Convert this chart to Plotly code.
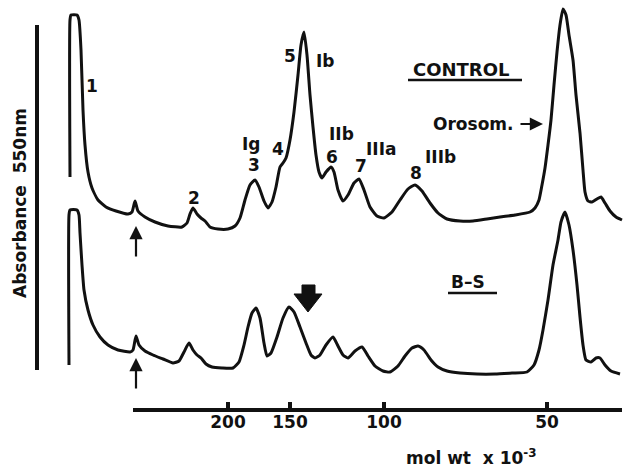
import plotly.graph_objects as go

W, H = 631, 467

# Elution position (arbitrary units) and absorbance (arbitrary units), CONTROL trace
control_x = [70, 70, 71, 77, 79, 81, 83, 85, 88, 92, 98, 106, 116, 128, 132, 135, 138, 145, 155, 168,
             182, 187, 190, 193, 197, 201, 205, 210, 218, 228, 235, 240, 245, 250, 255, 259, 264, 268,
             272, 276, 280, 283, 286, 290, 294, 298, 301, 304, 307, 310, 313, 316, 319, 322, 326, 331,
             334, 338, 343, 348, 354, 359, 364, 370, 377, 384, 392, 400, 408, 415, 422, 430, 438, 447,
             460, 473, 487, 500, 515, 530, 535, 539, 542, 545, 548, 551, 554, 557, 560, 563, 566, 569,
             573, 576, 580, 583, 585, 588, 592, 597, 601, 605, 610, 616, 622]
control_a = [0.53, 2.10, 2.15, 2.15, 2.10, 1.80, 1.20, 0.85, 0.58, 0.42, 0.30, 0.23, 0.19, 0.16, 0.18,
             0.29, 0.19, 0.13, 0.08, 0.04, 0.03, 0.07, 0.16, 0.22, 0.16, 0.12, 0.09, 0.03, 0.01, 0.01,
             0.04, 0.12, 0.30, 0.45, 0.50, 0.43, 0.29, 0.22, 0.28, 0.43, 0.63, 0.67, 0.72, 0.90, 1.18,
             1.55, 1.85, 1.98, 1.75, 1.35, 1.03, 0.75, 0.58, 0.52, 0.58, 0.63, 0.58, 0.40, 0.29, 0.35,
             0.47, 0.51, 0.40, 0.23, 0.14, 0.12, 0.18, 0.30, 0.41, 0.45, 0.39, 0.27, 0.17, 0.11, 0.09,
             0.09, 0.11, 0.13, 0.15, 0.18, 0.22, 0.30, 0.45, 0.62, 0.85, 1.10, 1.45, 1.78, 2.05, 2.21,
             2.15, 1.95, 1.70, 1.35, 0.97, 0.60, 0.38, 0.29, 0.28, 0.31, 0.33, 0.27, 0.19, 0.13, 0.10]

# B-S trace
bs_x = [69, 69, 70, 77, 79, 80, 82, 84, 88, 93, 100, 108, 118, 130, 133, 136, 139, 145, 153, 163,
        173, 179, 184, 189, 193, 197, 201, 206, 212, 222, 233, 239, 244, 248, 252, 256, 260, 264,
        267, 271, 277, 283, 289, 294, 300, 306, 311, 315, 320, 326, 333, 338, 343, 348, 355, 362,
        368, 375, 383, 390, 398, 405, 412, 418, 424, 431, 438, 447, 460, 477, 495, 512, 527, 534,
        539, 543, 548, 553, 558, 561, 565, 569, 573, 577, 580, 583, 586, 591, 596, 600, 605, 611, 620]
bs_a = [0.10, 1.60, 1.65, 1.65, 1.60, 1.42, 1.10, 0.85, 0.65, 0.50, 0.38, 0.30, 0.25, 0.23, 0.25,
        0.39, 0.30, 0.24, 0.20, 0.16, 0.12, 0.14, 0.23, 0.32, 0.25, 0.20, 0.17, 0.11, 0.08, 0.07,
        0.07, 0.13, 0.30, 0.48, 0.62, 0.67, 0.57, 0.32, 0.19, 0.22, 0.38, 0.57, 0.68, 0.63, 0.48,
        0.32, 0.20, 0.17, 0.20, 0.30, 0.38, 0.29, 0.20, 0.17, 0.24, 0.28, 0.19, 0.09, 0.04, 0.03,
        0.09, 0.19, 0.27, 0.29, 0.25, 0.15, 0.08, 0.04, 0.02, 0.01, 0.01, 0.02, 0.03, 0.10, 0.25,
        0.45, 0.75, 1.10, 1.35, 1.53, 1.63, 1.50, 1.25, 0.90, 0.58, 0.30, 0.15, 0.13, 0.17, 0.17,
        0.10, 0.04, 0.01]

# Molecular weight scale (x 10^-3) and its position on the elution axis
mw_tick_pos = [228, 290, 384, 547]
mw_tick_labels = ["200", "150", "100", "50"]
mw_axis_span = [133, 622]

FONT = "DejaVu Sans"
INK = "#111111"
AXIS_PX = 410  # pixel row of the molecular weight axis


def P(px, py):
    return px / W, 1 - py / H


fig = go.Figure()
fig.add_trace(go.Scatter(x=control_x, y=control_a, mode="lines", yaxis="y",
                         line=dict(color=INK, width=3, shape="spline", smoothing=0.5),
                         hoverinfo="skip", showlegend=False))
fig.add_trace(go.Scatter(x=bs_x, y=bs_a, mode="lines", yaxis="y2",
                         line=dict(color=INK, width=3, shape="spline", smoothing=0.5),
                         hoverinfo="skip", showlegend=False))

ybot = 1 - AXIS_PX / H
fig.update_layout(
    width=W, height=H, margin=dict(l=0, r=0, t=0, b=0),
    paper_bgcolor="white", plot_bgcolor="rgba(0,0,0,0)",
    xaxis=dict(range=[0, W], domain=[0, 1], anchor="y", side="bottom",
               showline=False, showgrid=False, zeroline=False, ticks="",
               tickvals=mw_tick_pos, ticktext=["<b>%s</b>" % t for t in mw_tick_labels],
               tickfont=dict(family=FONT, size=17, color=INK)),
    yaxis=dict(range=[(230 - AXIS_PX) / 100, 230 / 100], domain=[ybot, 1], visible=False),
    yaxis2=dict(range=[(375 - AXIS_PX) / 100, 375 / 100], domain=[ybot, 1], overlaying="y",
                visible=False),
)

shapes = []
# molecular weight axis line and its tick marks (drawn as one path)
yt = 1 - (AXIS_PX - 8) / H
tick_path = "M %f,%f L %f,%f" % (mw_axis_span[0], ybot, mw_axis_span[1], ybot)
for tv in mw_tick_pos:
    tick_path += " M %f,%f L %f,%f" % (tv, ybot, tv, yt)
shapes.append(dict(type="path", xref="x", yref="paper", path=tick_path,
                   line=dict(color=INK, width=4)))
# absorbance scale bar
bx, by0 = P(37, 25)
_, by1 = P(37, 370)
shapes.append(dict(type="line", xref="paper", yref="paper", x0=bx, x1=bx, y0=by0, y1=by1,
                   line=dict(color=INK, width=4)))
# underlines
for (xa, xb, yy) in [(408, 522, 80), (448, 497, 293)]:
    a, yv = P(xa, yy)
    b, _ = P(xb, yy)
    shapes.append(dict(type="line", xref="paper", yref="paper", x0=a, x1=b, y0=yv, y1=yv,
                       line=dict(color=INK, width=2.5)))
# big down arrow
pts = [(302, 285), (315, 285), (315, 294), (322, 294), (308, 312), (294, 294), (302, 294)]
path = "M " + " L ".join("%f,%f" % P(x, y) for x, y in pts) + " Z"
shapes.append(dict(type="path", xref="paper", yref="paper", path=path,
                   fillcolor=INK, line=dict(color=INK, width=1)))
fig.update_layout(shapes=shapes)

labels = [
    ("1", 92, 86, 17), ("2", 194, 198, 17), ("Ig", 252, 144, 17), ("3", 254, 165, 17),
    ("4", 278, 149, 17), ("5", 290, 56, 17), ("Ib", 325, 61, 17), ("IIb", 341, 134, 17),
    ("6", 332, 157, 17), ("IIIa", 381, 149, 17), ("7", 361, 166, 17), ("IIIb", 440, 157, 17),
    ("8", 416, 173, 17), ("CONTROL", 462, 69, 18), ("Orosom.", 473, 124, 17),
    ("B\u2013S", 468, 282, 17), ("mol wt  x 10<sup>-3</sup>", 472, 457, 17),
]
ann = []
for t, x, y, s in labels:
    xp, yp = P(x, y)
    ann.append(dict(text="<b>%s</b>" % t, x=xp, y=yp, xref="paper", yref="paper",
                    showarrow=False, xanchor="center", yanchor="middle",
                    font=dict(family=FONT, size=s, color=INK)))
xp, yp = P(20, 203)
ann.append(dict(text="<b>Absorbance  550nm</b>", x=xp, y=yp, xref="paper", yref="paper",
                showarrow=False, textangle=-90, xanchor="center", yanchor="middle",
                font=dict(family=FONT, size=17, color=INK)))
# arrows: Orosom. pointer and two sample-application markers
for (hx, hy, tx, ty) in [(543, 124, 519, 124), (136, 226, 136, 258), (136, 358, 136, 390)]:
    xh, yh = P(hx, hy)
    ann.append(dict(text="", x=xh, y=yh, xref="paper", yref="paper", showarrow=True,
                    ax=tx - hx, ay=ty - hy, arrowhead=2, arrowsize=1.2, arrowwidth=2.2,
                    arrowcolor=INK))
fig.update_layout(annotations=ann)

fig.write_html("out.html", config={"displayModeBar": False},
               post_script="document.body.style.margin='0';"
                           "document.body.style.overflow='hidden';")
